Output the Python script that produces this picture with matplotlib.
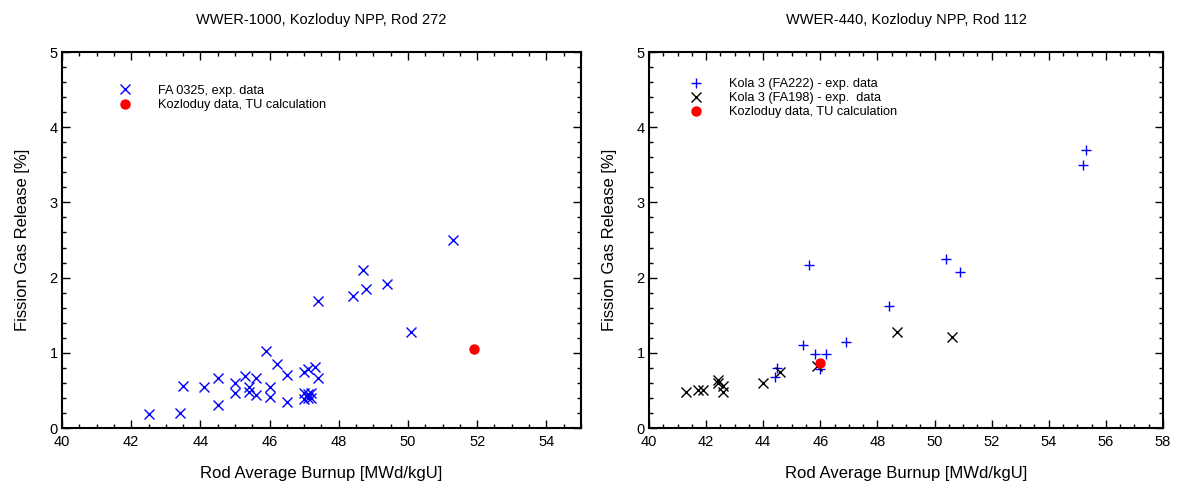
import numpy as np
import matplotlib.pyplot as plt
from matplotlib.ticker import MultipleLocator

plt.rcParams['font.family'] = ['Liberation Sans', 'DejaVu Sans']

# left panel: WWER-1000, Rod 272
fa0325_bu = [42.5, 43.4, 43.5, 44.1, 44.5, 44.5, 45.0, 45.0, 45.3, 45.4, 45.4,
             45.6, 45.6, 45.9, 46.0, 46.0, 46.2, 46.5, 46.5, 47.0, 47.1, 47.3,
             47.4, 47.0, 47.1, 47.2, 47.0, 47.1, 47.2, 47.4, 48.4, 48.7, 48.8,
             49.4, 50.1, 51.3]
fa0325_fgr = [0.19, 0.20, 0.56, 0.54, 0.66, 0.30, 0.60, 0.47, 0.69, 0.55, 0.48,
              0.67, 0.44, 1.03, 0.54, 0.41, 0.85, 0.70, 0.34, 0.74, 0.79, 0.81,
              0.66, 0.47, 0.45, 0.46, 0.38, 0.40, 0.40, 1.69, 1.76, 2.10, 1.85,
              1.92, 1.28, 2.50]
koz1000_bu = [51.9]
koz1000_fgr = [1.05]

# right panel: WWER-440, Rod 112
fa222_bu = [44.4, 44.5, 45.4, 45.8, 46.2, 46.0, 46.9, 48.4, 45.6, 50.4, 50.9, 55.2, 55.3]
fa222_fgr = [0.68, 0.80, 1.11, 0.99, 0.98, 0.79, 1.15, 1.62, 2.17, 2.25, 2.07, 3.50, 3.70]
fa198_bu = [41.3, 41.7, 41.9, 42.4, 42.4, 42.6, 42.6, 44.0, 44.6, 45.9, 48.7, 50.6]
fa198_fgr = [0.48, 0.50, 0.50, 0.64, 0.60, 0.56, 0.48, 0.60, 0.75, 0.83, 1.28, 1.21]
koz440_bu = [46.0]
koz440_fgr = [0.86]

fig = plt.figure(figsize=(11.77, 4.86), dpi=100)
ax1 = fig.add_axes([0.0527, 0.1193, 0.4409, 0.7737])
ax2 = fig.add_axes([0.5514, 0.1193, 0.4367, 0.7737])

ax1.plot(fa0325_bu, fa0325_fgr, 'x', color='#0000ff', ms=7, mew=1.0, label='FA 0325, exp. data')
ax1.plot(koz1000_bu, koz1000_fgr, 'o', color='#ff0000', ms=6.5, label='Kozloduy data, TU calculation')

ax2.plot(fa222_bu, fa222_fgr, '+', color='#0000ff', ms=7, mew=1.0, label='Kola 3 (FA222) - exp. data')
ax2.plot(fa198_bu, fa198_fgr, 'x', color='black', ms=6.5, mew=1.0, label='Kola 3 (FA198) - exp.  data')
ax2.plot(koz440_bu, koz440_fgr, 'o', color='#ff0000', ms=6.5, label='Kozloduy data, TU calculation')

ax1.set_xlim(40, 55)
ax2.set_xlim(40, 58)
ax1.set_title('WWER-1000, Kozloduy NPP, Rod 272', fontsize=10.5, pad=20)
ax2.set_title('WWER-440, Kozloduy NPP, Rod 112', fontsize=10.5, pad=20)

for ax in (ax1, ax2):
    ax.set_ylim(0, 5)
    ax.xaxis.set_major_locator(MultipleLocator(2))
    ax.xaxis.set_minor_locator(MultipleLocator(0.5))
    ax.yaxis.set_major_locator(MultipleLocator(1))
    ax.yaxis.set_minor_locator(MultipleLocator(0.2))
    ax.tick_params(which='both', direction='in', top=True, right=True, labelsize=10.5)
    ax.tick_params(which='major', length=6, width=1)
    ax.tick_params(which='minor', length=3, width=1)
    ax.tick_params(axis='x', pad=5)
    ax.tick_params(axis='y', pad=3)
    for s in ax.spines.values():
        s.set_linewidth(1.5)
    ax.set_xlabel('Rod Average Burnup [MWd/kgU]', fontsize=12, labelpad=12)
    ax.set_ylabel('Fission Gas Release [%]', fontsize=12, labelpad=14)

ax1.legend(loc='upper left', bbox_to_anchor=(0.096, 0.93), frameon=False, fontsize=9.2,
           borderpad=0, handlelength=1.0, handletextpad=2.15, labelspacing=0.2, numpoints=1)
ax2.legend(loc='upper left', bbox_to_anchor=(0.067, 0.947), frameon=False, fontsize=9.2,
           borderpad=0, handlelength=1.0, handletextpad=2.1, labelspacing=0.15, numpoints=1)

plt.savefig('out.png', dpi=100)
